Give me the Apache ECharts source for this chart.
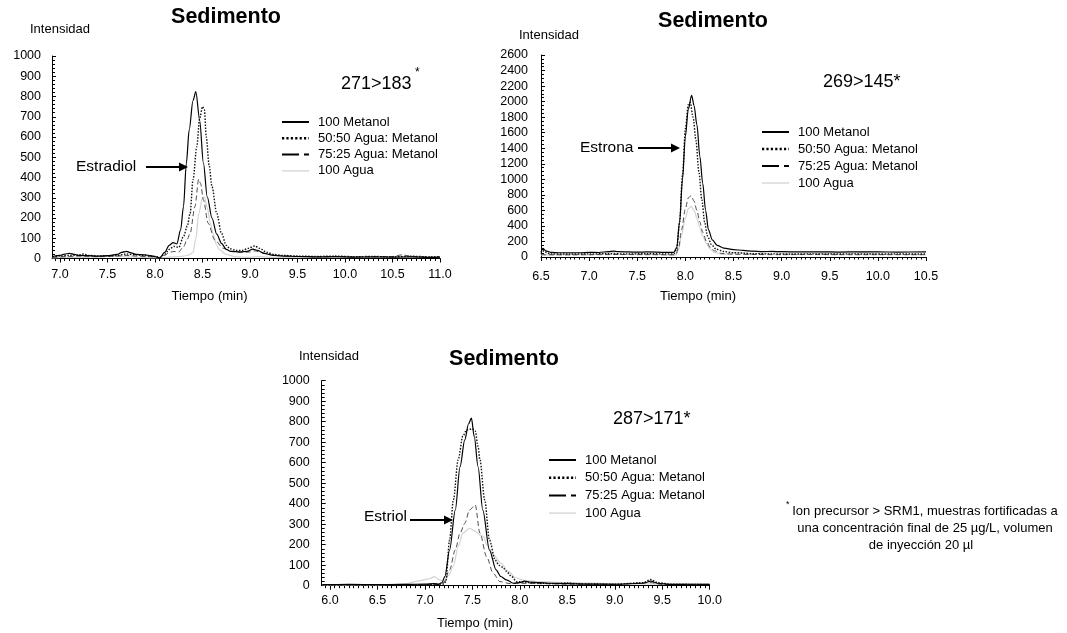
<!DOCTYPE html>
<html>
<head>
<meta charset="utf-8">
<script src="https://cdn.jsdelivr.net/npm/echarts@6/dist/echarts.min.js"></script>
<style>
  html, body { margin: 0; padding: 0; background: #fff; }
  #chart { width: 1067px; height: 633px; }
</style>
</head>
<body>
<div id="chart"></div>
<script>
// Chromatograms of estradiol, estrone and estriol in sediment, four extraction solvents.
const seriesNames = ['100 Metanol', '50:50 Agua: Metanol', '75:25 Agua: Metanol', '100 Agua'];

// Estradiol, transition 271>183 — [time (min), intensity]
const estradiolMetanol = [[6.92,10],[7.0,15],[7.05,22],[7.1,25],[7.15,20],[7.2,15],[7.3,14],[7.4,12],[7.5,14],[7.6,20],[7.65,30],[7.7,35],[7.75,28],[7.8,20],[7.9,18],[7.95,14],[8.0,10],[8.05,2],[8.1,30],[8.15,65],[8.19,78],[8.23,72],[8.27,141],[8.30,256],[8.33,470],[8.36,635],[8.40,780],[8.43,824],[8.47,684],[8.51,470],[8.55,305],[8.6,200],[8.65,120],[8.7,75],[8.75,45],[8.8,35],[8.9,33],[8.97,35],[9.03,46],[9.08,40],[9.15,25],[9.25,15],[9.35,12],[9.5,10],[9.7,8],[9.9,9],[10.1,7],[10.3,8],[10.5,7],[10.7,8],[10.9,6],[11.0,7]];
const estradiol5050 = [[6.92,8],[7.0,12],[7.1,15],[7.2,18],[7.25,22],[7.3,15],[7.4,12],[7.5,13],[7.6,15],[7.7,22],[7.8,18],[7.9,14],[8.0,10],[8.05,5],[8.1,20],[8.15,45],[8.2,60],[8.25,55],[8.3,108],[8.34,160],[8.37,223],[8.40,388],[8.44,552],[8.47,690],[8.50,750],[8.52,735],[8.54,600],[8.57,460],[8.60,355],[8.65,223],[8.70,124],[8.75,65],[8.79,48],[8.85,40],[8.92,40],[8.98,50],[9.05,62],[9.1,50],[9.18,30],[9.25,20],[9.35,15],[9.5,12],[9.7,10],[9.9,12],[10.1,9],[10.3,10],[10.5,8],[10.7,11],[10.9,8],[11.0,9]];
const estradiol7525 = [[6.92,5],[7.0,8],[7.1,10],[7.2,12],[7.3,10],[7.4,9],[7.5,10],[7.6,12],[7.7,15],[7.8,12],[7.9,10],[8.0,8],[8.05,4],[8.1,15],[8.15,30],[8.2,35],[8.25,32],[8.3,58],[8.34,95],[8.37,124],[8.42,256],[8.46,391],[8.48,370],[8.51,289],[8.56,174],[8.63,91],[8.72,50],[8.8,35],[8.9,30],[9.0,32],[9.05,38],[9.1,32],[9.2,20],[9.3,14],[9.5,10],[9.7,8],[9.9,10],[10.1,8],[10.3,9],[10.5,10],[10.6,18],[10.7,10],[10.9,7],[11.0,8]];
const estradiolAgua = [[6.92,3],[7.0,5],[7.2,6],[7.4,8],[7.5,10],[7.6,12],[7.7,8],[7.9,5],[8.0,4],[8.1,5],[8.2,8],[8.3,12],[8.36,18],[8.40,30],[8.43,100],[8.46,220],[8.50,300],[8.52,305],[8.55,250],[8.58,180],[8.61,124],[8.65,65],[8.68,42],[8.75,20],[8.85,8],[9.0,6],[9.1,10],[9.2,6],[9.5,5],[10.0,5],[10.5,6],[11.0,5]];

// Estrone, transition 269>145
const estronaMetanol = [[6.5,60],[6.52,110],[6.55,80],[6.6,60],[6.7,55],[6.9,55],[7.0,60],[7.1,58],[7.2,70],[7.25,75],[7.3,68],[7.5,62],[7.6,65],[7.8,60],[7.88,60],[7.91,120],[7.94,450],[7.97,1000],[8.00,1550],[8.03,1900],[8.065,2080],[8.09,1950],[8.12,1700],[8.15,1300],[8.18,950],[8.21,600],[8.24,350],[8.28,220],[8.33,150],[8.4,115],[8.5,95],[8.6,85],[8.7,75],[8.8,70],[8.9,72],[9.0,68],[9.2,65],[9.4,66],[9.6,64],[9.8,66],[10.0,65],[10.2,64],[10.5,65]];
const estrona5050 = [[6.5,40],[6.53,80],[6.56,55],[6.6,40],[6.8,38],[7.0,40],[7.2,42],[7.4,40],[7.6,42],[7.8,40],[7.88,40],[7.91,100],[7.94,450],[7.97,1050],[8.00,1650],[8.03,1960],[8.05,1990],[8.08,1800],[8.11,1500],[8.14,1100],[8.17,750],[8.20,450],[8.23,270],[8.27,160],[8.32,100],[8.4,70],[8.5,55],[8.6,50],[8.7,42],[8.9,40],[9.1,38],[9.3,40],[9.5,38],[9.7,40],[9.9,38],[10.2,40],[10.5,38]];
const estrona7525 = [[6.5,30],[6.8,28],[7.0,30],[7.3,32],[7.6,30],[7.85,28],[7.9,30],[7.93,120],[7.96,350],[8.0,620],[8.03,760],[8.06,790],[8.09,720],[8.12,600],[8.15,450],[8.18,320],[8.22,200],[8.26,120],[8.3,80],[8.38,45],[8.5,35],[8.7,32],[9.0,30],[9.3,32],[9.6,30],[10.0,30],[10.5,30]];
const estronaAgua = [[6.5,25],[6.8,30],[7.0,28],[7.25,60],[7.3,35],[7.6,40],[7.85,25],[7.9,25],[7.93,90],[7.96,280],[8.0,500],[8.03,620],[8.06,650],[8.09,600],[8.12,500],[8.15,380],[8.18,270],[8.22,170],[8.26,100],[8.3,60],[8.38,35],[8.55,60],[8.65,40],[8.95,55],[9.1,35],[9.5,50],[9.6,35],[9.85,55],[10.0,35],[10.5,30]];

// Estriol, transition 287>171
const estriolMetanol = [[5.92,5],[6.2,6],[6.5,5],[6.8,6],[7.0,8],[7.1,10],[7.15,8],[7.18,15],[7.21,44],[7.26,174],[7.32,369],[7.37,580],[7.42,711],[7.46,790],[7.49,817],[7.52,727],[7.56,580],[7.61,369],[7.68,174],[7.75,77],[7.80,45],[7.86,28],[7.93,12],[8.0,15],[8.05,22],[8.1,18],[8.2,15],[8.3,12],[8.5,10],[8.7,8],[9.0,7],[9.3,12],[9.38,22],[9.45,12],[9.6,6],[9.8,7],[10.0,6]];
const estriol5050 = [[5.92,3],[6.2,4],[6.5,3],[6.8,4],[7.0,5],[7.1,6],[7.2,8],[7.22,20],[7.26,223],[7.30,418],[7.35,613],[7.40,730],[7.44,760],[7.50,765],[7.53,755],[7.56,680],[7.58,613],[7.63,418],[7.68,223],[7.74,125],[7.78,100],[7.82,90],[7.86,70],[7.9,50],[7.97,20],[8.05,18],[8.1,15],[8.2,12],[8.4,10],[8.5,14],[8.6,10],[8.8,8],[9.0,7],[9.3,15],[9.38,30],[9.45,15],[9.6,7],[10.0,6]];
const estriol7525 = [[5.92,3],[6.5,3],[7.0,5],[7.15,6],[7.2,15],[7.26,77],[7.32,174],[7.37,256],[7.42,304],[7.47,369],[7.53,394],[7.58,256],[7.65,141],[7.72,60],[7.79,20],[7.9,10],[8.0,12],[8.2,10],[8.5,8],[9.0,6],[9.38,15],[9.5,6],[10.0,5]];
const estriolAgua = [[5.92,2],[6.5,3],[6.8,10],[6.95,25],[7.0,30],[7.05,35],[7.1,44],[7.15,30],[7.2,20],[7.25,50],[7.30,95],[7.35,190],[7.40,256],[7.47,280],[7.53,265],[7.58,247],[7.62,240],[7.65,200],[7.72,150],[7.8,110],[7.88,70],[7.95,40],[8.05,25],[8.2,20],[8.5,15],[9.0,10],[9.5,8],[10.0,8]];

// Axis tick labels
const estradiolTimeLabels = [7.0, 7.5, 8.0, 8.5, 9.0, 9.5, 10.0, 10.5, 11.0];
const estronaTimeLabels = [6.5, 7.0, 7.5, 8.0, 8.5, 9.0, 9.5, 10.0, 10.5];
const estriolTimeLabels = [6.0, 6.5, 7.0, 7.5, 8.0, 8.5, 9.0, 9.5, 10.0];

const FONT = '"Liberation Sans", Arial, Helvetica, sans-serif';

const panels = [
  { data: [estradiolMetanol, estradiol5050, estradiol7525, estradiolAgua],
    xMin: 6.916, xMax: 11.0, yMax: 1000, yStep: 100, yMinor: 5, labels: estradiolTimeLabels,
    grid: { left: 52, top: 56, width: 388, height: 202.5 }, xMargin: 10, yMargin: 11,
    legend: { left: 282, y0: 122, step: 16.3 } },
  { data: [estronaMetanol, estrona5050, estrona7525, estronaAgua],
    xMin: 6.5, xMax: 10.5, yMax: 2600, yStep: 200, yMinor: 4, labels: estronaTimeLabels,
    grid: { left: 541, top: 55, width: 385, height: 202 }, xMargin: 13, yMargin: 13,
    legend: { left: 762, y0: 132, step: 17 } },
  { data: [estriolMetanol, estriol5050, estriol7525, estriolAgua],
    xMin: 5.913, xMax: 10.0, yMax: 1000, yStep: 100, yMinor: 5, labels: estriolTimeLabels,
    grid: { left: 321.7, top: 380.7, width: 388, height: 205 }, xMargin: 8, yMargin: 12,
    legend: { left: 549, y0: 460, step: 17.7 } }
];

function tickRange(a, b, step) {
  const out = [];
  for (let k = Math.ceil(a / step - 1e-9); k * step <= b + 1e-9; k++) out.push(+(k * step).toFixed(3));
  return out;
}

const lineStyles = [
  { color: '#000', width: 1.2, type: 'solid' },
  { color: '#111', width: 1.4, type: [1.5, 1.5] },
  { color: '#3a3a3a', width: 0.9, type: [5, 3] },
  { color: '#d2d2d2', width: 1.2, type: 'solid' }
];
// Legend key strokes: [colour, width, dash]
const legendKeys = [
  ['#000', 2, null],
  ['#000', 2.5, [2.2, 2.2]],
  ['#000', 2, [17, 5]],
  ['#d8d8d8', 1.5, null]
];
const zOrder = [5, 4, 3, 2];

const grids = [], xAxes = [], yAxes = [], series = [];
panels.forEach((p, i) => {
  grids.push(Object.assign({ containLabel: false }, p.grid));
  xAxes.push({
    gridIndex: i, type: 'value', min: p.xMin, max: p.xMax,
    axisLine: { show: true, onZero: false, lineStyle: { color: '#000', width: 1 } },
    axisTick: { show: true, customValues: p.labels, length: 4, lineStyle: { color: '#000' } },
    axisLabel: { customValues: p.labels, formatter: v => v.toFixed(1), margin: p.xMargin,
                 fontSize: 12.5, color: '#000', fontFamily: FONT },
    splitLine: { show: false }
  });
  yAxes.push({
    gridIndex: i, type: 'value', min: 0, max: p.yMax, interval: p.yStep,
    axisLine: { show: true, onZero: false, lineStyle: { color: '#000', width: 1 } },
    axisTick: { show: true, inside: true, length: 4, lineStyle: { color: '#000' } },
    minorTick: { show: true, splitNumber: p.yMinor, length: 3, lineStyle: { color: '#000' } },
    axisLabel: { margin: p.yMargin, fontSize: 12.5, color: '#000', fontFamily: FONT,
                 formatter: v => String(v) },
    splitLine: { show: false }
  });
  p.data.forEach((d, j) => {
    series.push({
      name: seriesNames[j], type: 'line', xAxisIndex: i, yAxisIndex: i, data: d,
      symbol: 'none', smooth: 0.3, smoothMonotone: 'x', z: zOrder[j],
      lineStyle: lineStyles[j], itemStyle: { color: lineStyles[j].color },
      silent: true, animation: false
    });
  });
});
// Minor time ticks on a second, label-free axis per grid
panels.forEach((p, i) => {
  xAxes.push({
    gridIndex: i, type: 'value', min: p.xMin, max: p.xMax, position: 'bottom',
    axisLine: { show: false, onZero: false },
    axisTick: { show: true, customValues: tickRange(p.xMin, p.xMax, 0.05), length: 2.5, lineStyle: { color: '#000' } },
    axisLabel: { show: false }, splitLine: { show: false }
  });
});

function txt(text, x, y, size, opts) {
  opts = opts || {};
  return { type: 'text', silent: true, z: 10,
    style: { text: text, x: x, y: y, fill: '#000',
      font: (opts.bold ? 'bold ' : '') + size + 'px ' + FONT,
      textAlign: opts.align || 'left', align: opts.align || 'left',
      textVerticalAlign: 'middle', verticalAlign: 'middle' } };
}
function arrow(x1, x2, y) {
  return [
    { type: 'line', silent: true, z: 10, shape: { x1: x1, y1: y, x2: x2 - 8, y2: y }, style: { stroke: '#000', lineWidth: 2 } },
    { type: 'polygon', silent: true, z: 10, shape: { points: [[x2, y], [x2 - 9, y - 4.5], [x2 - 9, y + 4.5]] }, style: { fill: '#000' } }
  ];
}
// Legend keys drawn as short strokes followed by the series names
function legendBlock(lg) {
  const out = [];
  seriesNames.forEach((name, k) => {
    const y = lg.y0 + k * lg.step;
    const [color, width, dash] = legendKeys[k];
    out.push({ type: 'line', silent: true, z: 10,
      shape: { x1: lg.left, y1: y, x2: lg.left + 27, y2: y },
      style: { stroke: color, lineWidth: width, lineDash: dash } });
    out.push(txt(name, lg.left + 36, y, 13));
  });
  return out;
}

const graphics = [
  txt('Sedimento', 226, 17.5, 21.5, { bold: true, align: 'center' }),
  txt('Sedimento', 713, 21.5, 21.5, { bold: true, align: 'center' }),
  txt('Sedimento', 504, 359, 21.5, { bold: true, align: 'center' }),
  txt('Intensidad', 60, 29, 13, { align: 'center' }),
  txt('Intensidad', 549, 35, 13, { align: 'center' }),
  txt('Intensidad', 329, 356, 13, { align: 'center' }),
  txt('Tiempo (min)', 209.5, 296, 13, { align: 'center' }),
  txt('Tiempo (min)', 698, 296, 13, { align: 'center' }),
  txt('Tiempo (min)', 475, 623, 13, { align: 'center' }),
  txt('271>183', 341, 84, 18),
  txt('*', 415, 73, 12),
  txt('269>145*', 823, 82, 18),
  txt('287>171*', 613, 419, 18),
  txt('Estradiol', 76, 167, 15.5),
  txt('Estrona', 580, 148, 15.5),
  txt('Estriol', 364, 517, 15.5),
  ...arrow(146, 188, 167),
  ...arrow(638, 680, 148),
  ...arrow(410, 453, 520),
  ...panels.flatMap(p => legendBlock(p.legend)),
  txt('*', 786, 505, 9),
  txt('Ion precursor > SRM1, muestras fortificadas a', 925, 511, 13, { align: 'center' }),
  txt('una concentración final de 25 µg/L, volumen', 925, 528, 13, { align: 'center' }),
  txt('de inyección 20 µl', 921, 545, 13, { align: 'center' })
];

const chart = echarts.init(document.getElementById('chart'), null, { renderer: 'canvas' });
chart.setOption({
  animation: false,
  backgroundColor: '#fff',
  textStyle: { fontFamily: FONT },
  grid: grids, xAxis: xAxes, yAxis: yAxes, series: series,
  graphic: graphics
});
</script>
</body>
</html>
